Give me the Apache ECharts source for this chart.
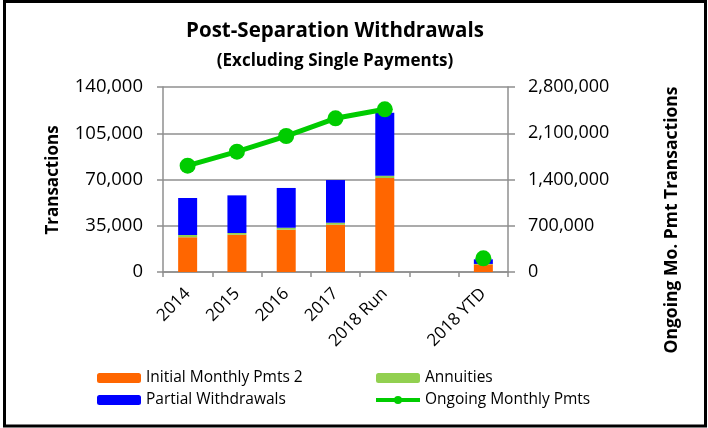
<!DOCTYPE html>
<html>
<head>
<meta charset="utf-8">
<script src="https://cdn.jsdelivr.net/npm/echarts@6/dist/echarts.min.js"></script>
<style>
  html, body { margin: 0; padding: 0; background: #fff; }
  #chart { width: 708px; height: 428px; }
</style>
</head>
<body>
<div id="chart"></div>
<script>
var categories = ['2014', '2015', '2016', '2017', '2018 Run', '', '2018 YTD'];
var initialMonthly = [26300, 28200, 32000, 35800, 71100, null, 5800];
var annuities = [1700, 1300, 1500, 1500, 1800, null, 300];
var partialWithdrawals = [28000, 28500, 30100, 32300, 47700, null, 3500];
var ongoingMonthly = [1609000, 1821000, 2058000, 2326000, 2462000, null, 207000];

var leftTicks = { min: 0, max: 140000, interval: 35000 };
var rightTicks = { min: 0, max: 2800000, interval: 700000 };

var font = 'Open Sans';
var gridGray = '#8f8f8f';

function fmt(v) {
    return v.toString().replace(/\B(?=(\d{3})+(?!\d))/g, ',');
}

var myChart = echarts.init(document.getElementById('chart'));

var option = {
    animation: false,
    textStyle: { fontFamily: font, color: '#000' },
    title: [
        {
            text: 'Post-Separation Withdrawals',
            left: 330, top: 16, textAlign: 'center',
            textStyle: { fontFamily: font, fontSize: 20.5, fontWeight: 'bold', color: '#000' }
        },
        {
            text: '(Excluding Single Payments)',
            left: 330, top: 48, textAlign: 'center',
            textStyle: { fontFamily: font, fontSize: 17, fontWeight: 'bold', color: '#000' }
        }
    ],
    grid: { left: 163, right: 200, top: 87, bottom: 156 },
    legend: [
        {
            orient: 'vertical', left: 97, top: 370, padding: 0,
            itemWidth: 44, itemHeight: 10, itemGap: 6,
            data: ['Initial Monthly Pmts 2', 'Partial Withdrawals'],
            textStyle: { fontFamily: font, fontSize: 15.5, color: '#000' }
        },
        {
            orient: 'vertical', left: 374, top: 370, padding: 0,
            itemWidth: 44, itemHeight: 10, itemGap: 6,
            data: ['Annuities', 'Ongoing Monthly Pmts'],
            lineStyle: { width: 4 },
            textStyle: { fontFamily: font, fontSize: 15.5, color: '#000' }
        }
    ],
    graphic: [
        {
            type: 'rect',
            shape: { x: 4.5, y: 1.5, width: 701, height: 424.5 },
            style: { fill: 'none', stroke: '#000', lineWidth: 3 }
        },
        {
            type: 'text', x: 53, y: 180, rotation: Math.PI / 2,
            style: { text: 'Transactions', fontFamily: font, fontSize: 17, fontWeight: 'bold',
                     fill: '#000', align: 'center', verticalAlign: 'middle' }
        },
        {
            type: 'text', x: 672, y: 220, rotation: Math.PI / 2,
            style: { text: 'Ongoing Mo. Pmt Transactions', fontFamily: font, fontSize: 17.5, fontWeight: 'bold',
                     fill: '#000', align: 'center', verticalAlign: 'middle' }
        }
    ],
    xAxis: {
        type: 'category',
        data: categories,
        boundaryGap: true,
        axisLine: { lineStyle: { color: gridGray, width: 1.5 } },
        axisTick: { show: true, length: 5, lineStyle: { color: gridGray, width: 1.5 } },
        axisLabel: { rotate: 45, interval: 0, margin: 19, fontFamily: font, fontSize: 17, color: '#000' }
    },
    yAxis: [
        {
            type: 'value',
            min: leftTicks.min, max: leftTicks.max, interval: leftTicks.interval,
            position: 'left',
            axisLine: { show: true, lineStyle: { color: gridGray, width: 1.5 } },
            axisTick: { show: true, length: 6, lineStyle: { color: gridGray, width: 1.5 } },
            splitLine: { show: true, lineStyle: { color: gridGray, width: 1.5 } },
            axisLabel: { margin: 20, fontFamily: font, fontSize: 18.5, color: '#000', formatter: fmt }
        },
        {
            type: 'value',
            min: rightTicks.min, max: rightTicks.max, interval: rightTicks.interval,
            position: 'right',
            axisLine: { show: true, lineStyle: { color: gridGray, width: 1.5 } },
            axisTick: { show: true, length: 7, lineStyle: { color: gridGray, width: 1.5 } },
            splitLine: { show: false },
            axisLabel: { margin: 20, fontFamily: font, fontSize: 18, color: '#000', formatter: fmt }
        }
    ],
    series: [
        {
            name: 'Initial Monthly Pmts 2',
            type: 'bar', stack: 'total', yAxisIndex: 0,
            barWidth: 19,
            itemStyle: { color: '#ff6600' },
            data: initialMonthly
        },
        {
            name: 'Annuities',
            type: 'bar', stack: 'total', yAxisIndex: 0,
            barWidth: 19,
            itemStyle: { color: '#92d050' },
            data: annuities
        },
        {
            name: 'Partial Withdrawals',
            type: 'bar', stack: 'total', yAxisIndex: 0,
            barWidth: 19,
            itemStyle: { color: '#0000ff' },
            data: partialWithdrawals
        },
        {
            name: 'Ongoing Monthly Pmts',
            type: 'line', yAxisIndex: 1,
            symbol: 'circle', symbolSize: 16,
            connectNulls: false,
            lineStyle: { color: '#00cc00', width: 5 },
            itemStyle: { color: '#00cc00' },
            data: ongoingMonthly
        }
    ]
};

myChart.setOption(option);
</script>
</body>
</html>
